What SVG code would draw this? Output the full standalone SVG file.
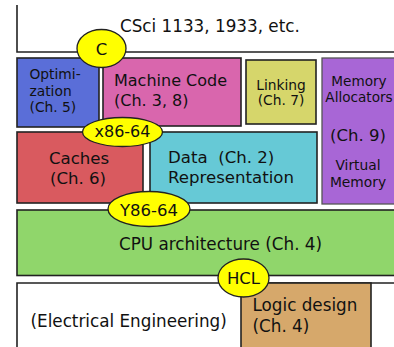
<svg xmlns="http://www.w3.org/2000/svg" width="394" height="347" viewBox="0 0 394 347">
<style>
text{font-family:"DejaVu Sans","Liberation Sans",sans-serif;fill:#111}
.b{stroke:#222;stroke-width:1.6}
.e{fill:#ffff00;stroke:#222;stroke-width:1.3}
.m{text-anchor:middle}
</style>
<rect width="394" height="347" fill="#fff"/>
<g id="csci">
<path d="M17,5 V52 H400" fill="none" class="b" stroke-width="2"/>
<text x="120" y="32" font-size="16.8">CSci 1133, 1933, etc.</text>
</g>
<g id="optimization">
<rect x="17" y="58" width="82" height="69" fill="#5a6ed8" class="b"/>
<text x="29.5" y="78.5" font-size="13.8">Optimi-</text>
<text x="29.5" y="96" font-size="13.8">zation</text>
<text x="29.5" y="111.5" font-size="13.8">(Ch. 5)</text>
</g>
<g id="machine">
<rect x="103" y="58" width="138" height="68" fill="#d966ad" class="b"/>
<text x="114" y="86" font-size="16">Machine Code</text>
<text x="114" y="106" font-size="16">(Ch. 3, 8)</text>
</g>
<g id="linking">
<rect x="246" y="60" width="70" height="64" fill="#d6d66b" class="b"/>
<text x="281" y="90" font-size="13.8" class="m">Linking</text>
<text x="281" y="105" font-size="13.8" class="m">(Ch. 7)</text>
</g>
<g id="memory">
<rect x="322" y="58" width="80" height="146" fill="#a866d6" stroke="#555" stroke-width="1.3"/>
<text x="359" y="86" font-size="13.6" class="m">Memory</text>
<text x="359" y="101.5" font-size="13.6" class="m">Allocators</text>
<text x="358" y="140.5" font-size="16.5" class="m">(Ch. 9)</text>
<text x="358" y="170" font-size="13.8" class="m">Virtual</text>
<text x="358" y="187" font-size="13.8" class="m">Memory</text>
</g>
<g id="caches">
<rect x="17" y="132" width="126" height="71" fill="#d95a5f" class="b"/>
<text x="79" y="164" font-size="16.6" class="m">Caches</text>
<text x="78" y="184" font-size="16.6" class="m">(Ch. 6)</text>
</g>
<g id="data">
<rect x="150" y="132" width="167" height="71" fill="#66c9d6" class="b"/>
<text x="168" y="163" font-size="16.6" xml:space="preserve">Data  (Ch. 2)</text>
<text x="168" y="183" font-size="16.6">Representation</text>
</g>
<g id="cpu">
<rect x="17" y="210" width="390" height="65.5" fill="#90d66b" class="b"/>
<text x="220.5" y="249.5" font-size="16.8" class="m">CPU architecture (Ch. 4)</text>
</g>
<g id="ee">
<path d="M17,350 V283 H400" fill="none" class="b" stroke-width="2"/>
<text x="30.5" y="326.5" font-size="16.8">(Electrical Engineering)</text>
</g>
<g id="logic">
<rect x="241" y="283" width="130" height="70" fill="#d6a86b" class="b"/>
<text x="252.5" y="310.5" font-size="16.8">Logic design</text>
<text x="252.5" y="331.5" font-size="16.8">(Ch. 4)</text>
</g>
<g id="connectors">
<g id="c">
<ellipse cx="101.5" cy="48.5" rx="24.5" ry="19" class="e"/>
<text x="101.5" y="54.5" font-size="16.5" class="m">C</text>
</g>
<g id="x86">
<ellipse cx="122.5" cy="132" rx="40" ry="14.5" class="e"/>
<text x="122.5" y="137" font-size="16" class="m">x86-64</text>
</g>
<g id="y86">
<ellipse cx="149" cy="209" rx="41" ry="17.5" class="e"/>
<text x="149" y="215.5" font-size="16.5" class="m">Y86-64</text>
</g>
<g id="hcl">
<ellipse cx="243.5" cy="278" rx="25.5" ry="19" class="e"/>
<text x="243.5" y="284" font-size="16.5" class="m">HCL</text>
</g>
</g>
</svg>
